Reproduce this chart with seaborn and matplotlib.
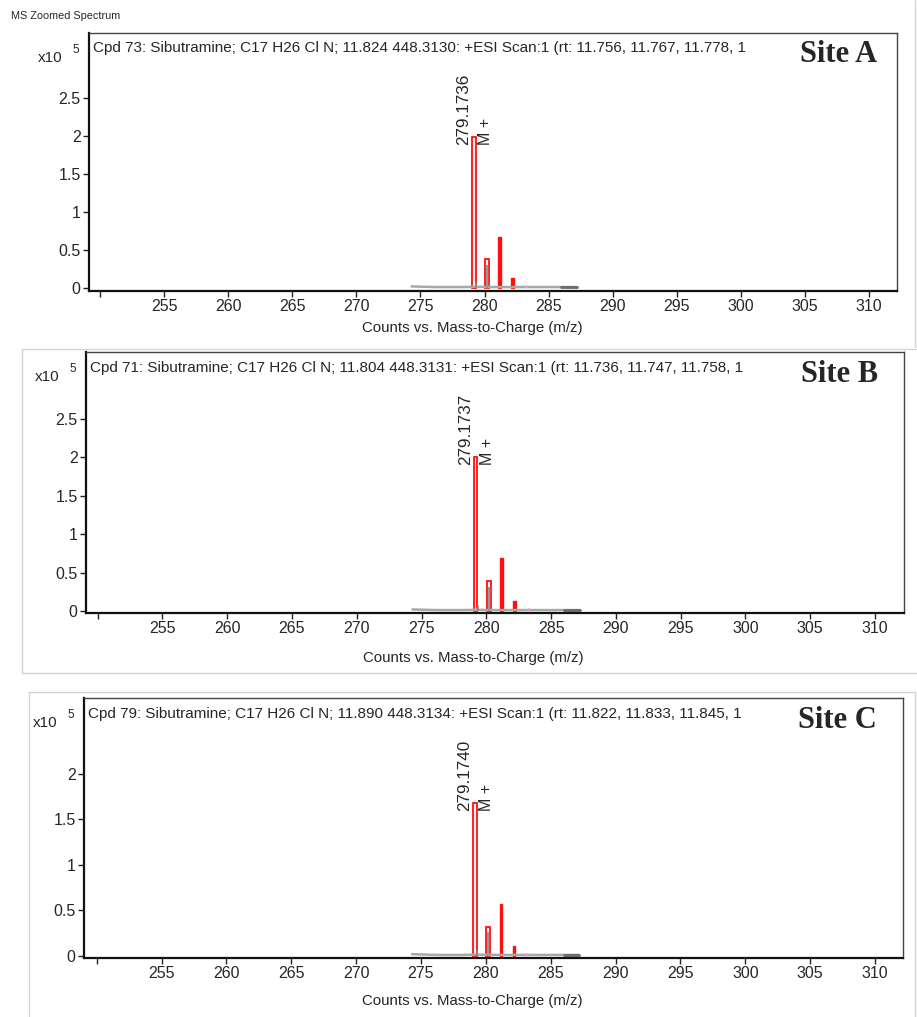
import matplotlib
matplotlib.use("Agg")
import matplotlib.pyplot as plt
from matplotlib import ticker
from matplotlib.patches import Rectangle
import pandas as pd
import seaborn as sns

# Data (counts in units of 10^5)
sites = ["Site A", "Site B", "Site C"]
cpd_titles = [
    "Cpd 73: Sibutramine; C17 H26 Cl N; 11.824 448.3130: +ESI Scan:1 (rt: 11.756, 11.767, 11.778, 1",
    "Cpd 71: Sibutramine; C17 H26 Cl N; 11.804 448.3131: +ESI Scan:1 (rt: 11.736, 11.747, 11.758, 1",
    "Cpd 79: Sibutramine; C17 H26 Cl N; 11.890 448.3134: +ESI Scan:1 (rt: 11.822, 11.833, 11.845, 1",
]
peak_labels = ["279.1736", "279.1737", "279.1740"]
peak_mz = [279.17, 280.18, 281.17, 282.17]
peak_counts_A = [1.98, 0.38, 0.67, 0.13]
peak_counts_B = [2.01, 0.39, 0.69, 0.13]
peak_counts_C = [1.68, 0.32, 0.57, 0.11]
peak_counts = [peak_counts_A, peak_counts_B, peak_counts_C]

# measured (grey) sticks and baseline trace
stick_mz = [279.32, 280.2]
stick_counts_A = [0.08, 0.30]
stick_counts_B = [0.08, 0.31]
stick_counts_C = [0.07, 0.26]
stick_counts = [stick_counts_A, stick_counts_B, stick_counts_C]
baseline_mz = [274.3, 276.2, 278.2, 279.3, 281.1, 283.2, 284.2, 286.0, 287.2]
baseline_counts = [0.02, 0.012, 0.012, 0.015, 0.012, 0.012, 0.012, 0.012, 0.012]

y_ticks = [[0, 0.5, 1, 1.5, 2, 2.5], [0, 0.5, 1, 1.5, 2, 2.5], [0, 0.5, 1, 1.5, 2]]
y_limits = [(-0.04, 3.355), (-0.026, 3.37), (-0.022, 2.835)]
x_limits = [(249.14, 312.18), (249.1, 312.24), (249.02, 312.16)]
x_ticks = list(range(250, 311, 5))

sns.set_style("ticks")
plt.rcParams["font.family"] = ["Liberation Sans", "DejaVu Sans"]

W, H = 917, 1017
fig = plt.figure(figsize=(W / 100, H / 100), dpi=100)

# axes boxes in pixels: left, top, right, bottom
boxes = [(89, 33, 897, 291), (86, 352, 904, 613), (84, 698, 903, 958)]
site_x = [0.975, 0.968, 0.968]
xlabel_y = [-0.115, -0.145, -0.14]

# light screenshot frames
frame_color = "#d4d4d4"
fig.add_artist(plt.Line2D([915 / W, 915 / W], [1 - 0 / H, 1 - 347 / H], color=frame_color, lw=1))
fig.add_artist(Rectangle((22 / W, 1 - 673 / H), 930 / W, 324 / H, fill=False, ec=frame_color, lw=1))
fig.add_artist(Rectangle((29 / W, -0.01), 886 / W, (1017 - 692) / H + 0.01, fill=False, ec=frame_color, lw=1))

fig.text(11 / W, 1 - 16 / H, "MS Zoomed Spectrum", fontsize=7.8, va="center", ha="left")

for i, (l, t, r, b) in enumerate(boxes):
    ax = fig.add_axes([l / W, 1 - b / H, (r - l) / W, (b - t) / H])
    counts = peak_counts[i]

    # baseline trace
    base = pd.DataFrame({"mz": baseline_mz, "counts": baseline_counts})
    sns.lineplot(data=base, x="mz", y="counts", ax=ax, color="#a8a8a8", lw=1.8)
    ax.plot([286.0, 287.2], [0.012, 0.012], color="#6a6a6a", lw=2.0)
    ax.plot([283.2], [0.02], marker="o", ms=2, color="#e8a0e8", mec="none")

    # measured sticks
    ax.vlines(stick_mz, 0, stick_counts[i], color="#888888", lw=1.2)

    # isotope boxes
    ax.bar(peak_mz[:2], counts[:2], width=0.29, facecolor="#fff0f0", edgecolor="#ff1010", lw=1.3)
    ax.vlines(stick_mz[1:], 0, stick_counts[i][1:], color="#999999", lw=1.0)
    ax.bar(peak_mz[2:], counts[2:], width=0.2, facecolor="#ff1010", edgecolor="#ff1010", lw=1.0)

    ax.annotate(peak_labels[i], (peak_mz[0], counts[0]), xytext=(-10, -8),
                textcoords="offset pixels", rotation=90, ha="center", va="bottom", fontsize=12.3)
    ax.annotate("M +", (peak_mz[0], counts[0]), xytext=(11.5, -8),
                textcoords="offset pixels", rotation=90, ha="center", va="bottom", fontsize=11.5)

    ax.set_xlim(*x_limits[i])
    ax.set_ylim(*y_limits[i])
    ax.set_xticks(x_ticks)
    ax.set_xticklabels(["" if v == 250 else str(v) for v in x_ticks])
    ax.set_yticks(y_ticks[i])
    ax.yaxis.set_major_formatter(ticker.FuncFormatter(lambda v, p: f"{v:g}"))
    ax.tick_params(direction="out", length=4, width=1, labelsize=11.5, pad=2, color="#222222")
    ax.set_xlabel("Counts vs. Mass-to-Charge (m/z)", fontsize=10.8)
    ax.xaxis.set_label_coords(0.474, xlabel_y[i])
    ax.set_ylabel("")

    for side in ["left", "bottom"]:
        ax.spines[side].set_linewidth(1.6)
        ax.spines[side].set_color("#111111")
    for side in ["top", "right"]:
        ax.spines[side].set_visible(True)
        ax.spines[side].set_linewidth(1.0)
        ax.spines[side].set_color("#444444")

    ax.text(0.005, 0.94, cpd_titles[i], transform=ax.transAxes, fontsize=11, va="center", ha="left")
    ax.text(site_x[i], 0.915, sites[i], transform=ax.transAxes, fontsize=22, fontweight="bold",
            family="Liberation Serif", va="center", ha="right")
    ax.text(-0.048, 0.905, "x10", transform=ax.transAxes, fontsize=11, va="center", ha="center")
    ax.text(-0.016, 0.934, "5", transform=ax.transAxes, fontsize=8.5, va="center", ha="center")

fig.savefig("out.png", dpi=100)
